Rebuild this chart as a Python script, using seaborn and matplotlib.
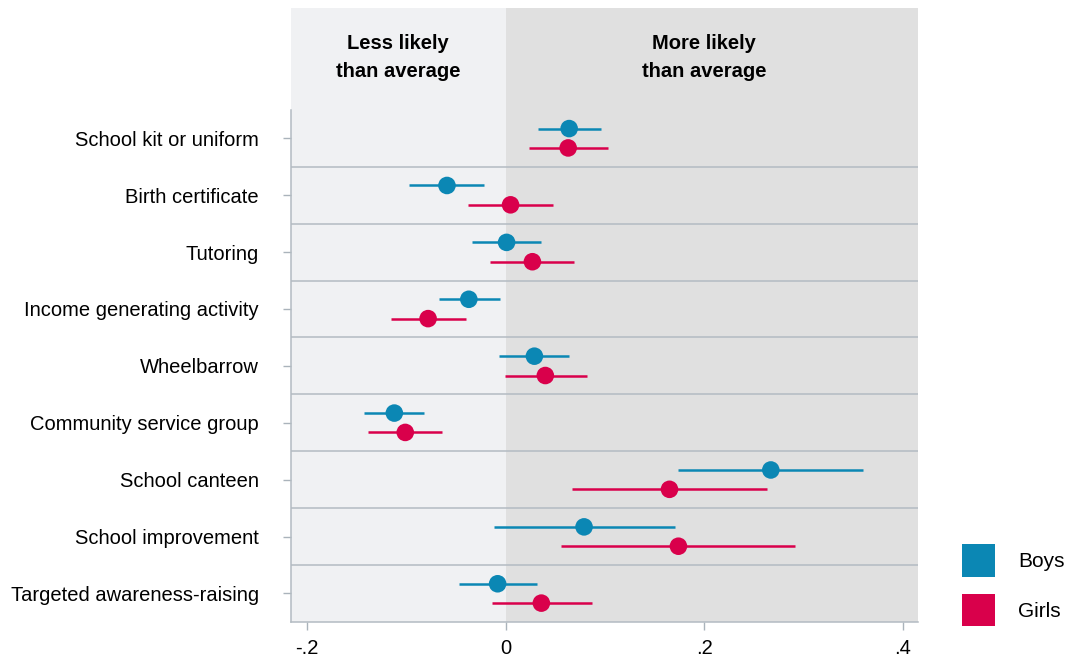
import numpy as np
import pandas as pd
import matplotlib
matplotlib.use("Agg")
import matplotlib.pyplot as plt
from matplotlib.patches import Patch
import seaborn as sns

# Categories, top to bottom
categories = ["School kit or uniform", "Birth certificate", "Tutoring",
              "Income generating activity", "Wheelbarrow", "Community service group",
              "School canteen", "School improvement", "Targeted awareness-raising"]

# Point estimates and confidence limits
boys_est = [0.064, -0.059, 0.001, -0.037, 0.029, -0.112, 0.267, 0.079, -0.008]
boys_lo = [0.033, -0.097, -0.034, -0.067, -0.007, -0.143, 0.174, -0.012, -0.047]
boys_hi = [0.096, -0.022, 0.036, -0.006, 0.064, -0.082, 0.360, 0.171, 0.032]

girls_est = [0.063, 0.005, 0.027, -0.078, 0.040, -0.101, 0.165, 0.174, 0.036]
girls_lo = [0.024, -0.038, -0.016, -0.115, -0.001, -0.138, 0.067, 0.056, -0.014]
girls_hi = [0.103, 0.048, 0.069, -0.040, 0.082, -0.064, 0.263, 0.291, 0.087]

xticks = [-0.2, 0.0, 0.2, 0.4]
xtick_labels = ["-.2", "0", ".2", ".4"]

groups = ["Boys", "Girls"]
colors = {"Boys": "#0b87b4", "Girls": "#d9004b"}
offsets = {"Boys": -0.17, "Girls": 0.17}

rows = []
for g, est, lo, hi in [("Boys", boys_est, boys_lo, boys_hi),
                       ("Girls", girls_est, girls_lo, girls_hi)]:
    for i, c in enumerate(categories):
        rows.append({"category": c, "group": g, "est": est[i], "lo": lo[i],
                     "hi": hi[i], "y": i + offsets[g]})
df = pd.DataFrame(rows)

sns.set_theme(style="white")
plt.rcParams["font.family"] = ["Liberation Sans", "DejaVu Sans"]
plt.rcParams["text.color"] = "black"

fig = plt.figure(figsize=(10.66, 6.63), dpi=100)
ax = fig.add_axes([0.273, 0.062, 0.588, 0.926])

xmin, xmax = -0.216, 0.415
n = len(categories)
ax.set_xlim(xmin, xmax)
ax.set_ylim(n - 0.5, -2.29)

# background panels
ax.axvspan(xmin, 0, color="#f0f1f3", zorder=0, lw=0)
ax.axvspan(0, xmax, color="#e0e0e0", zorder=0, lw=0)

# row separators
for i in range(n - 1):
    ax.axhline(i + 0.5, color="#b3bbc2", lw=1.1, zorder=1)

# confidence intervals
for g in groups:
    sub = df[df["group"] == g]
    ax.hlines(sub["y"], sub["lo"], sub["hi"], color=colors[g], lw=1.8, zorder=2)

sns.scatterplot(data=df, x="est", y="y", hue="group", palette=colors,
                s=160, edgecolor="none", ax=ax, zorder=3, legend=False)

# header labels
hdr_font = dict(ha="center", va="center", fontsize=14.5, fontweight="bold",
                linespacing=1.55, color="black",
                family=["Liberation Sans Narrow", "Liberation Sans"])
ax.text(xmin / 2, -1.42, "Less likely\nthan average", **hdr_font)
ax.text(0.2, -1.42, "More likely\nthan average", **hdr_font)

ax.set_yticks(range(n))
ax.set_yticklabels(categories)
ax.set_xticks(xticks)
ax.set_xticklabels(xtick_labels)
ax.set_xlabel("")
ax.set_ylabel("")
ax.tick_params(axis="y", length=6, width=1, color="#aab3bb", pad=17, labelsize=14.5,
               labelcolor="black", left=True)
ax.tick_params(axis="x", length=6, width=1, color="#aab3bb", pad=6, labelsize=14.5,
               labelcolor="black", bottom=True)
for lab in ax.get_yticklabels():
    lab.set_va("center_baseline")

for s in ["top", "right"]:
    ax.spines[s].set_visible(False)
ax.spines["left"].set_bounds(-0.5, n - 0.5)
ax.spines["left"].set_color("#b3bbc2")
ax.spines["bottom"].set_color("#b3bbc2")
ax.spines["left"].set_linewidth(1.1)
ax.spines["bottom"].set_linewidth(1.1)

handles = [Patch(facecolor=colors[g], edgecolor="none", label=g) for g in groups]
fig.legend(handles=handles, loc="upper left", bbox_to_anchor=(962 / 1066, 1 - 544 / 663),
           frameon=False, fontsize=15, handlelength=1.6, handleheight=2.05,
           labelspacing=0.8, handletextpad=1.1, borderpad=0, borderaxespad=0)

fig.savefig("out.png", dpi=100)
